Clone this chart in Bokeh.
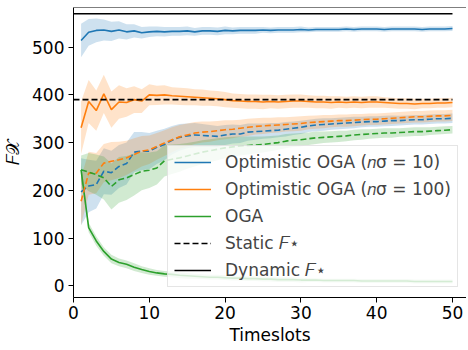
from bokeh.plotting import figure
from bokeh.models import Range1d, Legend, LegendItem, Span
from bokeh.embed import file_html
from bokeh.resources import INLINE

# ---------------- data ----------------
t = list(range(1, 51))

ooga10_dyn = [514, 531, 535, 536, 533, 536, 532, 534, 530, 532, 533, 532, 533, 533, 534,
              532, 534, 534, 533, 535, 534, 535, 535, 535, 536, 535, 536, 536, 536, 537,
              536, 537, 537, 537, 537, 538, 537, 538, 538, 538, 537, 538, 538, 538, 538,
              537, 538, 538, 538, 539]
ooga10_dyn_sd = [35, 28, 25, 22, 20, 18, 16, 14, 12, 11, 10, 10, 9, 9, 9, 8, 8, 8, 8, 8,
                 7, 7, 7, 7, 6, 6, 6, 6, 6, 6, 5, 5, 5, 5, 5, 5, 5, 5, 5, 5,
                 5, 5, 5, 5, 5, 5, 5, 5, 5, 5]

ooga100_dyn = [331, 386, 367, 402, 369, 385, 384, 390, 387, 400, 399, 400, 398, 397, 396,
               395, 394, 393, 392, 390, 388, 387, 386, 386, 385, 386, 385, 386, 387, 387,
               386, 385, 385, 384, 385, 384, 385, 384, 385, 385, 384, 383, 382, 382, 381,
               382, 382, 383, 383, 384]
ooga100_dyn_sd = [55, 45, 42, 40, 38, 35, 30, 28, 25, 22, 20, 20, 18, 18, 18, 17, 17, 16, 16, 16,
                  15, 15, 15, 15, 15, 14, 14, 14, 14, 14, 13, 13, 13, 13, 12, 12, 12, 12, 12, 12,
                  11, 11, 11, 11, 11, 10, 10, 10, 10, 10]

oga_dyn = [243, 122, 94, 72, 56, 49, 45, 39, 34, 30, 27, 25, 24, 22, 21,
           20, 19, 18, 18, 17, 16, 16, 15, 15, 14, 14, 13, 13, 13, 12,
           12, 12, 11, 11, 11, 11, 11, 10, 10, 10, 10, 10, 10, 10, 9,
           9, 9, 9, 9, 9]
oga_dyn_sd = [15, 10, 10, 9, 9, 8, 8, 8, 7, 7, 6, 6, 6, 6, 6, 5, 5, 5, 5, 5,
              5, 5, 5, 5, 5, 5, 5, 5, 5, 5, 4, 4, 4, 4, 4, 4, 4, 4, 4, 4,
              4, 4, 4, 4, 4, 4, 4, 4, 4, 4]

ooga10_sta = [197, 209, 212, 240, 237, 250, 256, 280, 282, 282, 290, 296, 305, 311, 314,
              316, 315, 314, 313, 316, 318, 318, 322, 323, 324, 325, 326, 328, 330, 332,
              335, 337, 338, 339, 340, 341, 342, 343, 344, 344, 345, 346, 346, 347, 348,
              348, 349, 350, 350, 351]
ooga10_sta_sd = [70, 55, 50, 48, 46, 45, 44, 42, 40, 38, 35, 33, 30, 28, 26, 25, 24, 23, 22, 21,
                 20, 19, 18, 17, 16, 16, 15, 15, 14, 14, 13, 13, 13, 12, 12, 12, 12, 11, 11, 11,
                 11, 11, 10, 10, 10, 10, 10, 10, 10, 10]

ooga100_sta = [177, 236, 236, 257, 261, 264, 268, 275, 282, 285, 292, 299, 306, 312, 316,
               320, 322, 323, 325, 327, 328, 330, 332, 334, 335, 336, 337, 338, 339, 340,
               342, 343, 344, 345, 346, 346, 347, 348, 349, 349, 350, 351, 352, 353, 354,
               354, 355, 356, 356, 357]
ooga100_sta_sd = [50, 45, 42, 40, 40, 38, 36, 34, 32, 30, 28, 27, 26, 25, 24, 23, 22, 21, 20, 20,
                  19, 18, 18, 17, 17, 16, 16, 15, 15, 15, 14, 14, 14, 13, 13, 13, 13, 12, 12, 12,
                  12, 12, 12, 12, 12, 12, 12, 12, 12, 12]

oga_sta = [243, 238, 233, 226, 208, 222, 226, 233, 240, 242, 247, 262, 265, 268, 272,
           276, 280, 283, 286, 289, 291, 293, 294, 295, 296, 298, 300, 303, 305, 306,
           308, 310, 311, 312, 313, 314, 316, 317, 318, 319, 320, 320, 321, 322, 323,
           323, 324, 325, 326, 327]
oga_sta_sd = [30, 40, 42, 45, 48, 48, 46, 44, 40, 37, 35, 33, 31, 29, 27, 26, 25, 24, 23, 22,
              21, 20, 19, 18, 17, 16, 15, 15, 14, 14, 13, 13, 12, 12, 12, 11, 11, 11, 10, 10,
              10, 10, 9, 9, 9, 9, 8, 8, 8, 8]

static_F = 390
dynamic_F = 570
ref_x = [0, 50]

x_ticks = [0, 10, 20, 30, 40, 50]
y_ticks = [0, 100, 200, 300, 400, 500]

labels = ["Optimistic OGA (\U0001D45B\u03c3 = 10)", "Optimistic OGA (\U0001D45B\u03c3 = 100)", "OGA",
          "Static \U0001D439\u22c6", "Dynamic \U0001D439\u22c6"]

BLUE, ORANGE, GREEN = "#1f77b4", "#ff7f0e", "#2ca02c"
FONT = "DejaVu Sans"
DASH = "6 3"

# ---------------- figure ----------------
p = figure(frame_width=393, frame_height=290, output_backend="svg", toolbar_location=None,
           x_range=Range1d(0, 51.85), y_range=Range1d(-24.5, 583),
           min_border_left=70, min_border_right=0, min_border_top=7, min_border_bottom=40)
p.outline_line_color = None
p.grid.visible = False
p.background_fill_color = "white"

def band(mean, sd, color):
    lo = [m - s for m, s in zip(mean, sd)]
    hi = [m + s for m, s in zip(mean, sd)]
    p.varea(x=t, y1=lo, y2=hi, fill_color=color, fill_alpha=0.22)

for mean, sd, col in [(ooga10_dyn, ooga10_dyn_sd, BLUE), (ooga100_dyn, ooga100_dyn_sd, ORANGE),
                      (oga_dyn, oga_dyn_sd, GREEN), (ooga10_sta, ooga10_sta_sd, BLUE),
                      (ooga100_sta, ooga100_sta_sd, ORANGE), (oga_sta, oga_sta_sd, GREEN)]:
    band(mean, sd, col)

r_b = p.line(t, ooga10_dyn, line_color=BLUE, line_width=1.6)
r_o = p.line(t, ooga100_dyn, line_color=ORANGE, line_width=1.6)
r_g = p.line(t, oga_dyn, line_color=GREEN, line_width=1.6)
p.line(t, ooga10_sta, line_color=BLUE, line_width=1.6, line_dash=DASH)
p.line(t, ooga100_sta, line_color=ORANGE, line_width=1.6, line_dash=DASH)
p.line(t, oga_sta, line_color=GREEN, line_width=1.6, line_dash=DASH)
r_s = p.line(ref_x, [static_F, static_F], line_color="black", line_width=1.6, line_dash=DASH)
r_d = p.line(ref_x, [dynamic_F, dynamic_F], line_color="black", line_width=1.6)

p.add_layout(Span(location=583, dimension="width", line_color="black", line_width=1.2))

# axes
for ax in (p.xaxis[0], p.yaxis[0]):
    ax.axis_line_color = "black"
    ax.axis_line_width = 1
    ax.major_tick_line_color = "black"
    ax.major_tick_out = 5
    ax.major_tick_in = 0
    ax.minor_tick_line_color = None
    ax.major_label_text_font = FONT
    ax.major_label_text_font_size = "17px"
    ax.major_label_text_color = "black"
    ax.axis_label_text_font = FONT
    ax.axis_label_text_font_size = "17px"
    ax.axis_label_text_font_style = "normal"
    ax.axis_label_text_color = "black"
p.xaxis.ticker = x_ticks
p.yaxis.ticker = y_ticks
p.xaxis.major_label_standoff = 3
p.yaxis.major_label_standoff = 4
p.xaxis.axis_label = "Timeslots"
p.xaxis.axis_label_standoff = 3
p.yaxis.axis_label = "\U0001D439\U0001D4B3"
p.yaxis.axis_label_standoff = 6

legend = Legend(items=[LegendItem(label=labels[0], renderers=[r_b]),
                       LegendItem(label=labels[1], renderers=[r_o]),
                       LegendItem(label=labels[2], renderers=[r_g]),
                       LegendItem(label=labels[3], renderers=[r_s]),
                       LegendItem(label=labels[4], renderers=[r_d])],
                location=(94, 10), label_text_font=FONT, label_text_font_size="17px",
                glyph_width=37, glyph_height=20, label_height=20, spacing=7,
                padding=6, margin=0, label_standoff=14,
                border_line_color="#cccccc", border_line_width=1,
                background_fill_color="white", background_fill_alpha=0.8)
p.add_layout(legend)

open("out.html", "w").write(file_html(p, INLINE))
